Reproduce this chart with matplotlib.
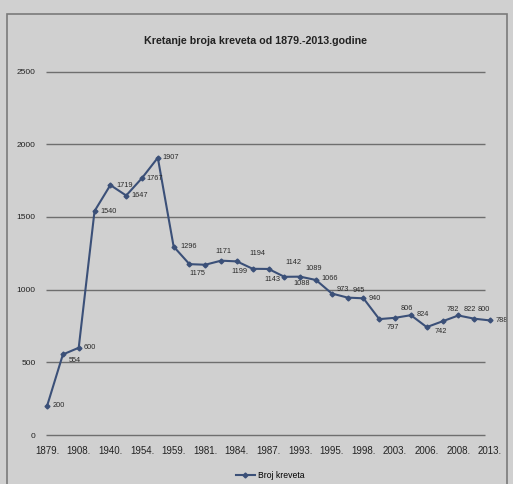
import matplotlib.pyplot as plt
from matplotlib.patches import Rectangle

plt.rcParams['font.family'] = ['Liberation Sans', 'DejaVu Sans']

# every second category label is shown on the axis
year_labels = ['1879.', '1908.', '1940.', '1954.', '1959.', '1981.', '1984.', '1987.',
               '1993.', '1995.', '1998.', '2003.', '2006.', '2008.', '2013.']
beds = [200, 554, 600, 1540, 1719, 1647, 1767, 1907, 1296, 1175, 1171, 1199, 1194,
        1143, 1142, 1088, 1089, 1066, 973, 945, 940, 797, 806, 824, 742, 782, 822,
        800, 788]
y_ticks = [0, 500, 1000, 1500, 2000, 2500]

# label offsets in pixels (dx right, dy down) as placed in the original
label_off = [(12, 0), (12, 6), (11, 0), (14, 0), (14, 0), (13, 0), (13, 0), (13, 0),
             (15, 0), (8, 9), (18, -13), (18, 11), (21, -8), (20, 11), (25, -6),
             (17, 7), (13, -8), (14, -2), (11, -4), (11, -7), (11, 0), (13, 8),
             (12, -9), (12, -1), (14, 4), (10, -12), (11, -6), (10, -9), (12, 0)]

line_col = '#3b5078'
grid_col = '#6e6e6e'

fig = plt.figure(figsize=(5.13, 4.84), dpi=100, facecolor='#d0d0d0')
ax = fig.add_axes([45.5 / 513, 1 - 435 / 484, 444.5 / 513, 363.5 / 484])
ax.set_facecolor('none')

x = list(range(len(beds)))
ax.hlines(y_ticks, -0.1, 27.7, color=grid_col, lw=1.0, clip_on=False, zorder=1)
ax.plot(x, beds, color=line_col, lw=1.5, marker='D', ms=2.5, clip_on=False,
        label='Broj kreveta', zorder=3)

for i, v in enumerate(beds):
    dx, dy = label_off[i]
    ax.annotate(str(v), (i, v), xytext=(dx, -dy), textcoords='offset pixels',
                ha='center', va='center', fontsize=5.3, color='#2a2a2a')

ax.set_xlim(-0.1, 27.7)
ax.set_ylim(0, 2500)
ax.set_yticks(y_ticks)
ax.set_xticks(x[::2])
ax.set_xticklabels(year_labels)
ax.tick_params(axis='x', length=0, pad=8, labelsize=7, colors='#222222')
ax.tick_params(axis='y', length=0, pad=7, labelsize=6, colors='#222222')
for s in ax.spines.values():
    s.set_visible(False)

fig.text(255 / 513, 1 - 41 / 484, 'Kretanje broja kreveta od 1879.-2013.godine',
         ha='center', va='center', fontsize=7.7, fontweight='bold', color='#222222')

fig.legend(loc='center', bbox_to_anchor=(270 / 513, 1 - 476 / 484), frameon=False,
           fontsize=6.2, handlelength=2.2, handletextpad=0.3)

fig.patches.append(Rectangle((7 / 513, -0.1), 500 / 513, 1.1 - 14 / 484,
                             transform=fig.transFigure, fill=False,
                             edgecolor='#7a7a7a', lw=1.2))

fig.savefig('out.png', dpi=100, facecolor=fig.get_facecolor())
